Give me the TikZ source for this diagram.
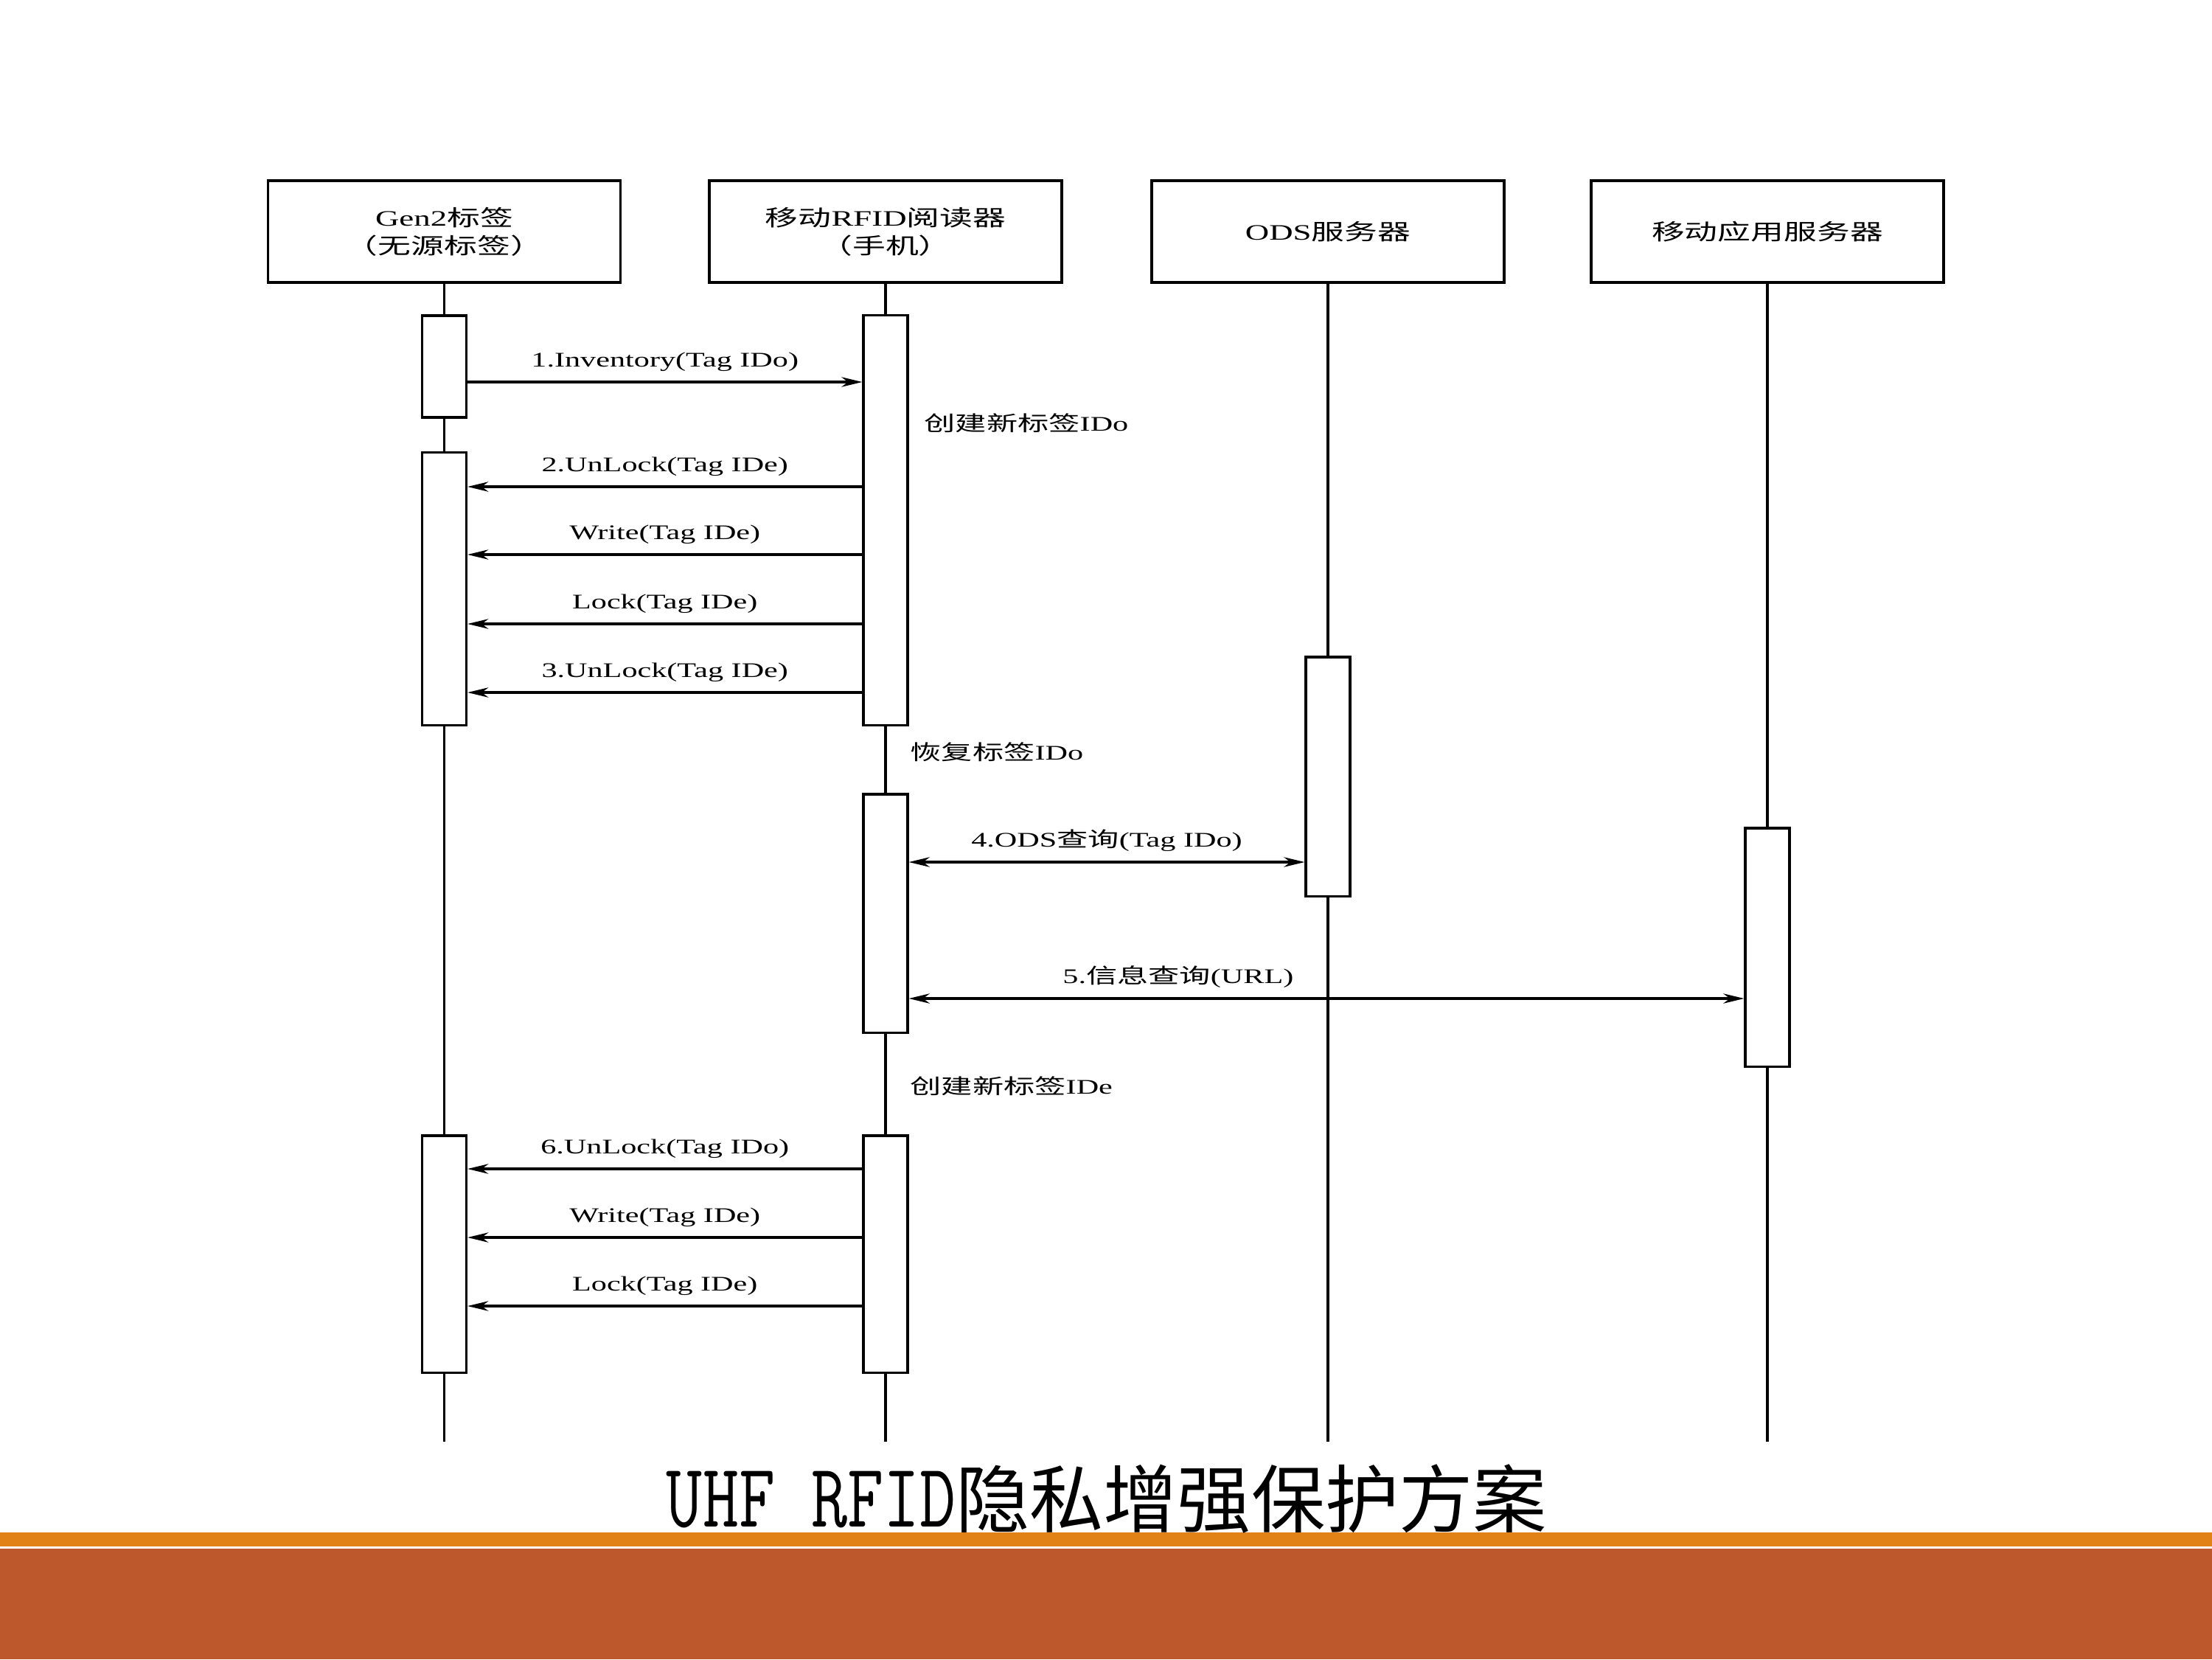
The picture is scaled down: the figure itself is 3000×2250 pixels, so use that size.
\documentclass[tikz,border=0pt]{standalone}
\usepackage{fontspec}
\setmainfont{Liberation Serif}
\newfontfamily\cjk{Noto Sans CJK SC}
\newfontfamily\latmono{Latin Modern Mono}
\usetikzlibrary{arrows.meta}
\newcommand\zh[1]{{\cjk #1}}
\newcommand\sx[1]{\scalebox{1.5}[1]{#1}}
\definecolor{barorange}{RGB}{224,130,22}
\definecolor{barbrown}{RGB}{189,88,44}
\begin{document}
\begin{tikzpicture}[x=0.01cm,y=-0.01cm,
  objbox/.style={draw, line width=1pt, minimum width=4.78cm, minimum height=1.38cm, inner sep=0pt, align=center, font=\fontsize{8.5}{10.8}\selectfont},
  life/.style={line width=0.9pt},
  act/.style={draw, fill=white, line width=0.9pt, minimum width=0.6cm, inner sep=0pt},
  tip/.tip={Stealth[length=8pt,width=3.8pt,inset=2.5pt]},
  msg/.style={line width=0.9pt, -tip},
  bimsg/.style={line width=0.9pt, tip-tip},
  lbl/.style={font=\fontsize{8}{9.6}\selectfont, inner sep=3.7pt},
  note/.style={font=\fontsize{8}{9.6}\selectfont, anchor=west, inner sep=0pt}]

\useasboundingbox (0,0) rectangle (3000,2250);
\fill[white] (0,0) rectangle (3000,2250);

% object boxes
\node[objbox] (g) at (602.5,314) {\sx{Gen2\zh{标签}}\\\sx{\zh{（无源标签）}}};
\node[objbox] (r) at (1201,314) {\sx{\zh{移动}RFID\zh{阅读器}}\\\sx{\zh{（手机）}}};
\node[objbox] (o) at (1801,314) {\sx{ODS\zh{服务器}}};
\node[objbox] (a) at (2397,314) {\sx{\zh{移动应用服务器}}};

% lifeline ends
\coordinate (gend) at (602.5,1955);
\coordinate (rend) at (1201,1955);
\coordinate (oend) at (1801,1955);
\coordinate (aend) at (2397,1955);
\draw[life] (g.south) -- (gend);
\draw[life] (r.south) -- (rend);
\draw[life] (o.south) -- (oend);
\draw[life] (a.south) -- (aend);

% activations
\node[act, minimum height=1.38cm] (ga1) at (602.5,497) {};
\node[act, minimum height=3.69cm] (ga2) at (602.5,798.5) {};
\node[act, minimum height=3.21cm] (ga3) at (602.5,1700.5) {};
\node[act, minimum height=5.55cm] (ra1) at (1201,705.5) {};
\node[act, minimum height=3.23cm] (ra2) at (1201,1238.5) {};
\node[act, minimum height=3.21cm] (ra3) at (1201,1700.5) {};
\node[act, minimum height=3.24cm] (oa1) at (1801,1053) {};
\node[act, minimum height=3.23cm] (aa1) at (2397,1284.5) {};

% messages
\draw[msg] (ga1.east |- 0,518) -- node[lbl,above] (l1) {\sx{1.Inventory(Tag IDo)}} (ra1.west |- 0,518);
\node[note] (n1) at (1253,574) {\sx{\zh{创建新标签}IDo}};
\draw[msg] (ra1.west |- 0,660) -- node[lbl,above] (l2) {\sx{2.UnLock(Tag IDe)}} (ga2.east |- 0,660);
\draw[msg] (ra1.west |- 0,752) -- node[lbl,above] (l2b) {\sx{Write(Tag IDe)}} (ga2.east |- 0,752);
\draw[msg] (ra1.west |- 0,846) -- node[lbl,above] (l2c) {\sx{Lock(Tag IDe)}} (ga2.east |- 0,846);
\draw[msg] (ra1.west |- 0,939) -- node[lbl,above] (l3) {\sx{3.UnLock(Tag IDe)}} (ga2.east |- 0,939);
\node[note] (n2) at (1234,1020) {\sx{\zh{恢复标签}IDo}};
\draw[bimsg] (ra2.east |- 0,1169) -- node[lbl,above] (l4) {\sx{4.ODS\zh{查询}(Tag IDo)}} (oa1.west |- 0,1169);
\draw[bimsg] (ra2.east |- 0,1354) -- node[lbl,above,pos=0.3225] (l5) {\sx{5.\zh{信息查询}(URL)}} (aa1.west |- 0,1354);
\node[note] (n3) at (1234,1473) {\sx{\zh{创建新标签}IDe}};
\draw[msg] (ra3.west |- 0,1585) -- node[lbl,above] (l6) {\sx{6.UnLock(Tag IDo)}} (ga3.east |- 0,1585);
\draw[msg] (ra3.west |- 0,1678) -- node[lbl,above] (l6b) {\sx{Write(Tag IDe)}} (ga3.east |- 0,1678);
\draw[msg] (ra3.west |- 0,1771) -- node[lbl,above] (l6c) {\sx{Lock(Tag IDe)}} (ga3.east |- 0,1771);

% footer bars
\fill[barorange] (0,2078) rectangle (3000,2097);
\fill[barbrown] (0,2100) rectangle (3000,2250);

% title
\node[anchor=base, inner sep=0pt] (title) at (1501,2070) {\fontsize{28.5}{30}\selectfont\scalebox{0.95}[1.23]{\latmono UHF RFID}\zh{隐私增强保护方案}};
\end{tikzpicture}
\end{document}
